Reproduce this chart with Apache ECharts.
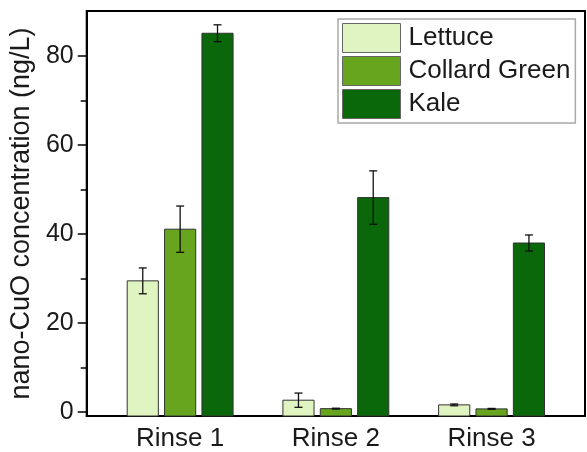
<!DOCTYPE html>
<html>
<head>
<meta charset="utf-8">
<script src="https://cdn.jsdelivr.net/npm/echarts@6/dist/echarts.min.js"></script>
<style>
html,body{margin:0;padding:0;background:#fff;}
#chart{width:587px;height:452px;}
</style>
</head>
<body>
<div id="chart"></div>
<script>
var categories = ['Rinse 1', 'Rinse 2', 'Rinse 3'];
var seriesNames = ['Lettuce', 'Collard Green', 'Kale'];
var lettuce = [29.5, 2.7, 1.65];
var lettuceErr = [2.9, 1.6, 0.2];
var collard = [41.1, 0.8, 0.75];
var collardErr = [5.2, 0.1, 0.1];
var kale = [85.1, 48.2, 38.0];
var kaleErr = [1.9, 6.0, 1.8];
var yTickLabels = [0, 20, 40, 60, 80];
var yMinorTicks = [10, 30, 50, 70];

var colors = ['#e0f4c2', '#66a51d', '#0a670a'];
var values = [lettuce, collard, kale];
var errors = [lettuceErr, collardErr, kaleErr];
var offsets = [-0.24, 0, 0.24];
var Y_MIN = -0.85, Y_MAX = 90.1;
var FONT = 'Liberation Sans, Arial, sans-serif';

function makeRender(idx) {
  return function (params, api) {
    var x = api.value(0) + offsets[idx];
    var v = api.value(1);
    var e = api.value(2);
    var top = api.coord([x, v]);
    var base = api.coord([x, Y_MIN]);
    var w = api.size([0.2, 0])[0];
    var hi = api.coord([x, v + e]);
    var lo = api.coord([x, v - e]);
    var cap = 4;
    var lineStyle = { stroke: '#111', lineWidth: 1.3 };
    return {
      type: 'group',
      children: [
        { type: 'rect', shape: { x: top[0] - w / 2, y: top[1], width: w, height: base[1] - top[1] },
          style: { fill: colors[idx], stroke: '#333', lineWidth: 1 } },
        { type: 'line', shape: { x1: top[0], y1: hi[1], x2: top[0], y2: lo[1] }, style: lineStyle },
        { type: 'line', shape: { x1: top[0] - cap, y1: hi[1], x2: top[0] + cap, y2: hi[1] }, style: lineStyle },
        { type: 'line', shape: { x1: top[0] - cap, y1: lo[1], x2: top[0] + cap, y2: lo[1] }, style: lineStyle }
      ]
    };
  };
}

var series = seriesNames.map(function (name, i) {
  return {
    name: name,
    type: 'custom',
    renderItem: makeRender(i),
    itemStyle: { color: colors[i], borderColor: '#555', borderWidth: 1 },
    encode: { x: 0, y: 1 },
    data: categories.map(function (c, j) { return [j + 1, values[i][j], errors[i][j]]; })
  };
});

var chart = echarts.init(document.getElementById('chart'), null, { renderer: 'canvas' });
chart.setOption({
  animation: false,
  backgroundColor: '#fff',
  grid: { left: 86, right: 2, top: 11, bottom: 36, show: true, borderColor: '#000', borderWidth: 2, containLabel: false },
  legend: {
    orient: 'vertical',
    left: 338, top: 19,
    padding: [4, 5, 4, 4],
    itemWidth: 58, itemHeight: 29, itemGap: 3,
    icon: 'rect',
    borderColor: '#a8a8a8', borderWidth: 1.5, backgroundColor: '#fff',
    textStyle: { fontSize: 26, fontFamily: FONT, color: '#1a1a1a', padding: [0, 0, 0, 3] },
    data: seriesNames.map(function (n, i) {
      return { name: n, itemStyle: { color: colors[i], borderColor: '#666', borderWidth: 1 } };
    })
  },
  xAxis: {
    type: 'value', min: 0.4, max: 3.6,
    axisLine: { show: true, onZero: false, lineStyle: { color: '#000', width: 2 } },
    axisTick: { show: false },
    splitLine: { show: false },
    axisLabel: {
      customValues: [1, 2, 3],
      formatter: function (v) { return categories[Math.round(v) - 1]; },
      fontSize: 26, fontFamily: FONT, color: '#1a1a1a', margin: 10
    }
  },
  yAxis: [{
    type: 'value', min: Y_MIN, max: Y_MAX, position: 'left',
    name: 'nano-CuO concentration (ng/L)',
    nameLocation: 'middle', nameGap: 47,
    nameTextStyle: { fontSize: 27, fontFamily: FONT, color: '#1a1a1a' },
    axisLine: { show: true, onZero: false, lineStyle: { color: '#000', width: 2 } },
    axisTick: { show: true, customValues: yTickLabels, length: 9, lineStyle: { color: '#000', width: 1.5 } },
    axisLabel: { customValues: yTickLabels, fontSize: 25, fontFamily: FONT, color: '#1a1a1a', margin: 13 },
    splitLine: { show: false }
  }, {
    type: 'value', min: Y_MIN, max: Y_MAX, position: 'left',
    axisLine: { show: false, onZero: false },
    axisTick: { show: true, customValues: yMinorTicks, length: 6, lineStyle: { color: '#000', width: 1.5 } },
    axisLabel: { show: false },
    splitLine: { show: false }
  }],
  series: series
});
</script>
</body>
</html>
